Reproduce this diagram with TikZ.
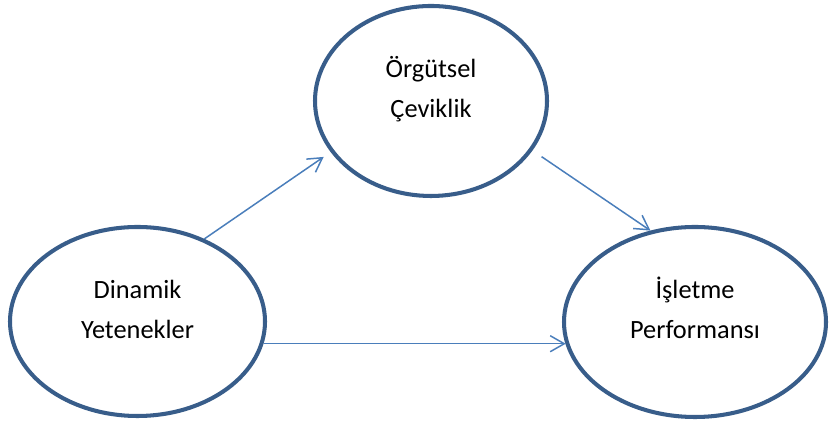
\documentclass[tikz,border=0pt]{standalone}
\usepackage{fontspec}
\setmainfont{Carlito}
\usetikzlibrary{arrows.meta,shapes.geometric}
\definecolor{edge}{RGB}{56,93,138}
\definecolor{link}{RGB}{74,126,187}

\begin{document}
\begin{tikzpicture}[
 oval/.style={ellipse,draw=edge,fill=white,line width=2.3pt,inner sep=0pt,
 align=center,font=\fontsize{15}{22.8}\selectfont,text height=28pt,text depth=9pt},
 arrow/.style={-{Straight Barb[length=2.8mm,width=3.2mm]},line width=.85pt,draw=link}
]
\useasboundingbox (0,0) rectangle (16.58,8.5);
\node[oval,minimum width=4.64cm,minimum height=3.8cm] (org) at (8.62,6.48) {Örgütsel\\Çeviklik};
\node[oval,minimum width=5.1cm,minimum height=3.78cm] (dyn) at (2.75,2.07) {Dinamik\\Yetenekler};
\node[oval,minimum width=5.24cm,minimum height=3.8cm] (prf) at (13.9,2.06) {İşletme\\Performansı};
\draw[arrow,shorten >=.17cm] (dyn.51) -- (org.207);
\draw[arrow,shorten <=.22cm] (org.334) -- (prf.116);
\draw[arrow] (dyn.350) -- (dyn.350 -| prf.190);
\end{tikzpicture}
\end{document}
